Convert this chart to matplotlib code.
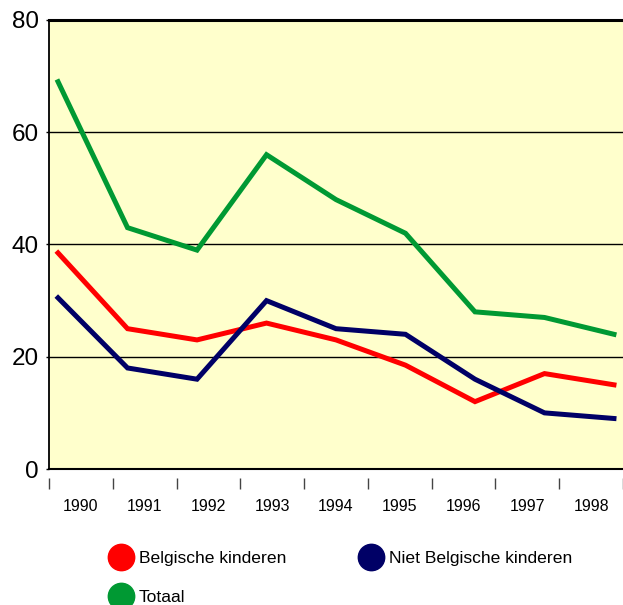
import numpy as np
import matplotlib
matplotlib.use("Agg")
import matplotlib.pyplot as plt
from matplotlib.lines import Line2D

plt.rcParams['font.family'] = ['Liberation Sans', 'DejaVu Sans']

# data
years = ['1990', '1991', '1992', '1993', '1994', '1995', '1996', '1997', '1998']
belgisch = [38.5, 25, 23, 26, 23, 18.5, 12, 17, 15]
niet_belgisch = [30.5, 18, 16, 30, 25, 24, 16, 10, 9]
totaal = [69, 43, 39, 56, 48, 42, 28, 27, 24]

red = '#ff0000'
navy = '#000066'
green = '#009933'

fig = plt.figure(figsize=(6.23, 6.05), dpi=100)
ax = fig.add_axes([49 / 623, 1 - 469 / 605, 574 / 623, 449 / 605])
ax.set_facecolor('#ffffcc')

x = np.arange(len(years))
ax.plot(x, belgisch, color=red, lw=3.6, solid_joinstyle='miter')
ax.plot(x, niet_belgisch, color=navy, lw=3.6, solid_joinstyle='miter')
ax.plot(x, totaal, color=green, lw=3.6, solid_joinstyle='miter')

xlo, xhi = -0.13, 8.13
ax.set_xlim(xlo, xhi)
ax.set_ylim(0, 80)

# y axis
ax.set_yticks([0, 20, 40, 60, 80])
ax.tick_params(axis='y', direction='out', length=2.5, width=1, color='black', pad=5, labelsize=17.5)
for v in [20, 40, 60]:
    ax.axhline(v, color='black', lw=1, zorder=0.5)

# x axis: ticks on category boundaries, labels in the middle
bounds = np.linspace(xlo, xhi, len(years) + 1)
ax.set_xticks(bounds)
ax.set_xticklabels([])
ax.set_xticks((bounds[:-1] + bounds[1:]) / 2, minor=True)
ax.set_xticklabels(years, minor=True)
ax.tick_params(axis='x', which='major', direction='out', length=8, width=1, color='#444444')
ax.tick_params(axis='x', which='minor', length=0, pad=15, labelsize=11.5)
ax.spines['bottom'].set_position(('outward', 6.5))
ax.spines['bottom'].set_visible(False)
ax.axhline(0, color='black', lw=1.5, clip_on=False)

ax.spines['right'].set_visible(False)
ax.spines['top'].set_linewidth(2.2)
ax.spines['left'].set_linewidth(1.3)

handles = [
    Line2D([], [], ls='none', marker='o', ms=19, color=red, label='Belgische kinderen'),
    Line2D([], [], ls='none', marker='o', ms=19, color=green, label='Totaal'),
    Line2D([], [], ls='none', marker='o', ms=19, color=navy, label='Niet Belgische kinderen'),
]
fig.legend(handles=handles, ncol=2, loc='upper left', bbox_to_anchor=(0.162, 0.104),
           frameon=False, fontsize=12.6, borderpad=0, handletextpad=0.42,
           columnspacing=4.2, labelspacing=1.35, handlelength=1.25)

fig.savefig('out.png', dpi=100)
